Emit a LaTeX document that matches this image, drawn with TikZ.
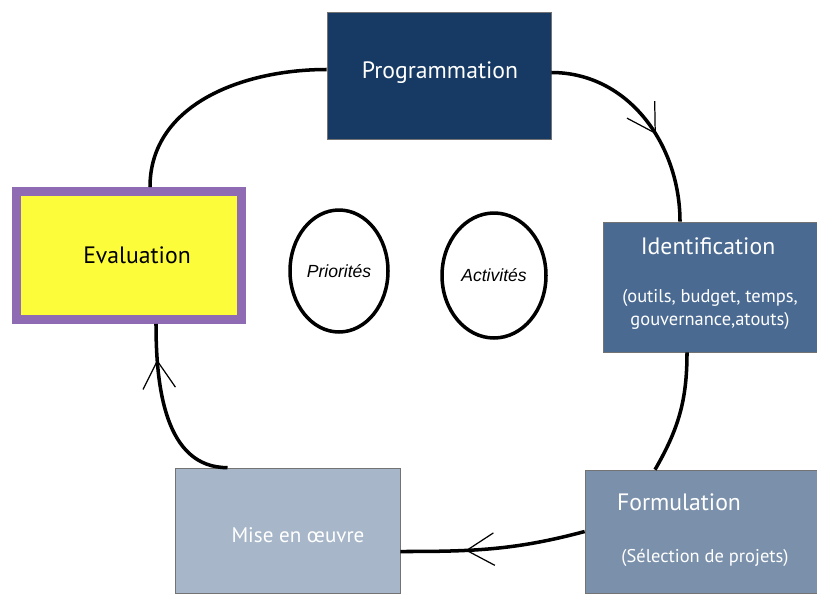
\documentclass[tikz,border=0pt]{standalone}
\usepackage{fontspec}
\setmainfont{PT Sans}
\newfontfamily\ellfont{Liberation Sans}
\usetikzlibrary{
	arrows.meta,
	positioning,
	calc,
	decorations.markings,
	shapes.geometric
}
\definecolor{progblue}{HTML}{163A63}
\definecolor{identblue}{HTML}{4A6A92}
\definecolor{formblue}{HTML}{7B91AB}
\definecolor{miseblue}{HTML}{A7B6C8}
\definecolor{evalyellow}{HTML}{FDFC3A}
\definecolor{evalpurple}{HTML}{8E6BB3}

\begin{document}
\begin{tikzpicture}[x=0.02cm, y=0.02cm,
	box/.style={rectangle, inner sep=0pt, draw=black!55, line width=.4pt},
	bigtxt/.style={font=\fontsize{13.5}{15}\selectfont},
	smalltxt/.style={font=\fontsize{10.5}{13}\selectfont, align=center},
	bubble/.style={ellipse, draw, line width=2pt, inner sep=0pt, font=\ellfont\itshape\fontsize{10}{12}\selectfont},
	link/.style={line width=2pt},
	barb/.style={postaction=decorate, decoration={markings, mark=at position #1 with {\arrow{Straight Barb[length=5.5mm, width=6.5mm, line width=.7pt]}}}}
	]

		\useasboundingbox (0,0) rectangle (817,593);

		% the five steps
		\node[box, fill=progblue, minimum width=4.48cm, minimum height=2.54cm] (prog) at (439,517.5) {};
		\node[box, draw=evalpurple, line width=9*0.02cm, fill=evalyellow, minimum width=4.5cm, minimum height=2.56cm] (eval) at (129,337.5) {};
		\node[box, fill=identblue, minimum width=4.28cm, minimum height=2.6cm] (ident) at (710,306) {};
		\node[box, fill=formblue, minimum width=4.64cm, minimum height=2.46cm] (form) at (701,61.5) {};
		\node[box, fill=miseblue, minimum width=4.5cm, minimum height=2.5cm] (mise) at (287.5,62.5) {};

		\node[bigtxt, white] (progtxt) at (440,520) {Programmation};
		\node[bigtxt] (evaltxt) at (137,338) {Evaluation};
		\node[bigtxt, white] (identtxt) at (708,347) {Identification};
		\node[smalltxt, white] (identsub) at (710,283.5) {(outils, budget, temps,\\ gouvernance,atouts)};
		\node[bigtxt, white] (formtxt) at (679,91) {Formulation};
		\node[smalltxt, white] (formsub) at (705,35) {(Sélection de projets)};
		\node[bigtxt, white, font=\fontsize{12}{14}\selectfont] (misetxt) at (298,58) {Mise en œuvre};

		% the two bubbles
		\node[bubble, minimum width=1.96cm, minimum height=2.44cm] (prio) at (339,322) {Priorités};
		\node[bubble, minimum width=2.08cm, minimum height=2.5cm] (activ) at (494,317.5) {Activités};

		% the cycle
		\draw[link] ($(eval.north)+(21,0)$) to[out=90,in=180] ($(prog.west)+(0,6)$);
		\draw[link, barb=0.58] ($(prog.east)+(0,3)$) to[out=0,in=90] ($(ident.north)+(-30,0)$);
		\draw[link] ($(ident.south)+(-23,0)$) to[out=-90,in=60] ($(form.north)+(-46,0)$);
		\draw[link, barb=0.65] (form.west) to[out=195,in=0] ($(mise.east)+(0,-21)$);
		\draw[link, barb=0.8] ($(mise.north)+(-60,0)$) to[out=180,in=-90] ($(eval.south)+(27,0)$);

	\end{tikzpicture}
\end{document}
